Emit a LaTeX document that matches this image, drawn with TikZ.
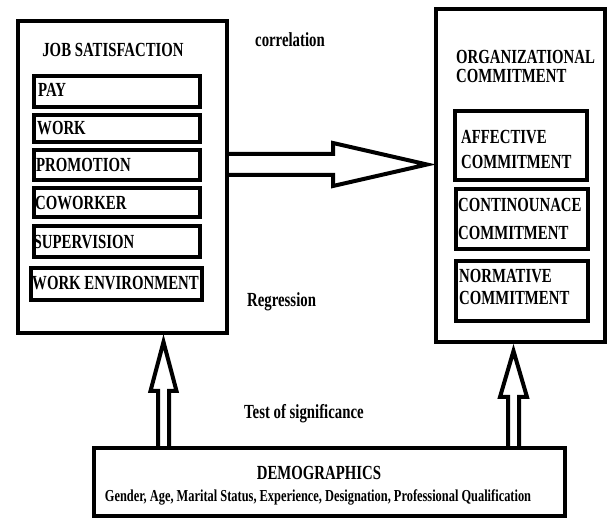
\documentclass[tikz,border=0pt]{standalone}
\usepackage{fontspec}
\setmainfont{Liberation Serif}[FakeStretch=0.74]
\usetikzlibrary{calc}
\newcommand\fs{\bfseries\fontsize{20}{25}\selectfont}
\newcommand\fss{\bfseries\fontsize{16.75}{20}\selectfont}
\begin{document}
\begin{tikzpicture}[x=1pt,y=-1pt,
  box/.style={draw, line width=4pt, inner sep=0pt},
  lbl/.style={inner sep=0pt, font=\fs},
  itemlbl/.style={lbl, anchor=west},
  fat/.style={draw, line width=4pt, line join=miter}]
\useasboundingbox[fill=white] (0,0) rectangle (608,518);

% main boxes
\node[box, minimum width=209pt, minimum height=312pt] (js) at (122.5,177) {};
\node[box, minimum width=169pt, minimum height=333pt] (oc) at (520.5,175.5) {};
\node[box, minimum width=471pt, minimum height=68pt] (demo) at (329.5,482) {};

% job satisfaction
\node[lbl, anchor=base] (jst) at (113,57) {JOB SATISFACTION};
\node[box, minimum width=166pt, minimum height=31pt] (pay) at (117,91.5) {};
\node[box, minimum width=166pt, minimum height=27pt] (work) at (117,128.5) {};
\node[box, minimum width=166pt, minimum height=30pt] (prom) at (117,165) {};
\node[box, minimum width=166pt, minimum height=29pt] (cow) at (117,202.5) {};
\node[box, minimum width=166pt, minimum height=31pt] (sup) at (117,241.5) {};
\node[box, minimum width=171pt, minimum height=32pt] (env) at (116.5,284) {};
\node[itemlbl] (payt) at ($(pay.west)+(6,-1.5)$) {PAY};
\node[itemlbl] (workt) at ($(work.west)+(5,0)$) {WORK};
\node[itemlbl] (promt) at ($(prom.west)+(4,0)$) {PROMOTION};
\node[itemlbl] (cowt) at ($(cow.west)+(3,1)$) {COWORKER};
\node[itemlbl] (supt) at ($(sup.west)+(1.5,0.5)$) {SUPERVISION};
\node[itemlbl] (envt) at ($(env.west)+(3,-1)$) {WORK ENVIRONMENT};

% organizational commitment
\node[lbl, anchor=north west, align=left] (oct) at (456,50) {ORGANIZATIONAL\\[-6pt]COMMITMENT};
\node[box, minimum width=132pt, minimum height=69pt] (aff) at (521,145.5) {};
\node[box, minimum width=132pt, minimum height=60pt] (con) at (522,219) {};
\node[box, minimum width=132pt, minimum height=60pt] (nor) at (522,291) {};
\node[lbl, anchor=north west, align=left] (afft) at (461,130) {AFFECTIVE\\COMMITMENT};
\node[lbl, anchor=north west, align=left] (cont) at (458,198) {CONTINOUNACE\\[3pt]COMMITMENT};
\node[lbl, anchor=north west, align=left] (nort) at (459,269) {NORMATIVE\\[-3pt]COMMITMENT};

% free labels
\node[lbl, anchor=base west] (cor) at (255,47) {correlation};
\node[lbl, anchor=base west] (reg) at (247,307) {Regression};
\node[lbl, anchor=base west] (tos) at (244,419) {Test of significance};

% demographics text
\node[lbl, anchor=base] (dt) at (319,479) {DEMOGRAPHICS};
\node[lbl, anchor=base, font=\fss] (dd) at (318,501) {Gender, Age, Marital Status, Experience, Designation, Professional Qualification};

% big arrow
\path (js.east |- 0,164.5) coordinate (ba) (oc.west |- 0,164.5) coordinate (bt);
\draw[fat] ($(ba)+(-2,-10.5)$) -- ++(106,0) -- ++(0,-11) -- ($(bt)+(-7,0)$)
  -- ($(ba)+(104,21.5)$) -- ++(0,-11) -- ++(-106,0);

% up arrows
\path (demo.north -| 163.5,0) coordinate (lb) (js.south -| 163.5,0) coordinate (lt);
\draw[fat] ($(lb)+(-5.5,2)$) -- ($(lb)+(-5.5,-55)$) -- ($(lb)+(-13,-55)$) -- ($(lt)+(0,7)$)
  -- ($(lb)+(13,-55)$) -- ($(lb)+(5.5,-55)$) -- ($(lb)+(5.5,2)$);
\path (demo.north -| 513.5,0) coordinate (rb) (oc.south -| 513.5,0) coordinate (rt);
\draw[fat] ($(rb)+(-5.5,2)$) -- ($(rb)+(-5.5,-49)$) -- ($(rb)+(-13.5,-49)$) -- ($(rt)+(0,7)$)
  -- ($(rb)+(13.5,-49)$) -- ($(rb)+(5.5,-49)$) -- ($(rb)+(5.5,2)$);
\end{tikzpicture}
\end{document}
